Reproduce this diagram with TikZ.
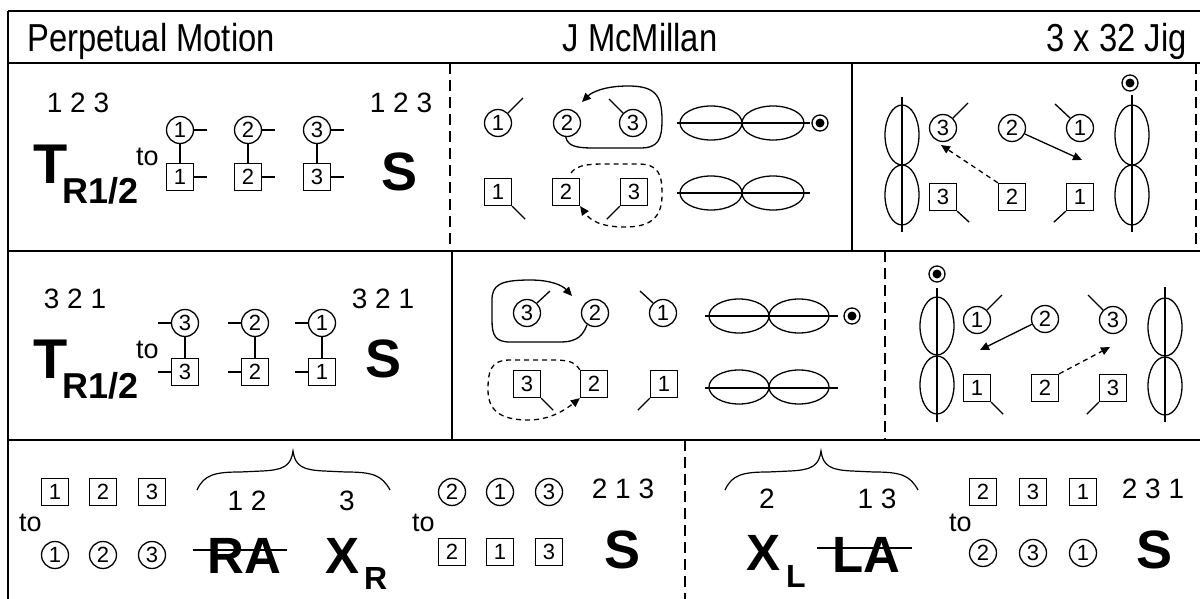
\documentclass[tikz,border=0pt]{standalone}
\usepackage{fontspec}
\setmainfont{Liberation Sans}
\newfontfamily\narrowfont[FakeStretch=0.84]{Liberation Sans}
\usetikzlibrary{arrows.meta,calc}
\newcommand\fsz[1]{\fontsize{#1pt}{#1pt}\selectfont}
\tikzset{
  circ/.style={circle,draw,line width=1.3pt,minimum size=27pt,inner sep=0pt,font=\fsz{22}},
  sq/.style={rectangle,draw,line width=1.3pt,minimum size=27pt,inner sep=0pt,font=\fsz{22}},
  tk/.style={line width=1.3pt},
  lbl/.style={inner sep=0pt,font=\fsz{28},anchor=base},
  tolbl/.style={inner sep=0pt,font=\fsz{27},anchor=base west},
  bigS/.style={inner sep=0pt,font=\bfseries\fsz{54},anchor=base},
  dotc/.style={circle,draw,line width=1.3pt,minimum size=16pt,inner sep=0pt},
  arr/.style={-{Triangle[length=9pt,width=8pt]},line width=1.3pt},
  dsh/.style={dash pattern=on 5pt off 4pt},
  sep/.style={line width=1.8pt},
  sepd/.style={line width=1.8pt,dash pattern=on 11pt off 6pt},
  reel/.style={line width=1.3pt},
}
\begin{document}
\begin{tikzpicture}[x=1pt,y=-1pt]
\useasboundingbox (0,0) rectangle (1200,599);
% frame
\draw[line width=2.6pt] (8,11) -- (1200,11);
\draw[line width=2.6pt] (8,63) -- (1200,63);
\draw[sep] (8,11) -- (8,599);
\draw[sep] (8,251) -- (1200,251);
\draw[sep] (8,440) -- (1200,440);
\draw[sepd] (450,63) -- (450,251);
\draw[sep] (852,63) -- (852,251);
\draw[sepd] (1196,63) -- (1196,251);
\draw[sep] (452,251) -- (452,440);
\draw[sepd] (885,251) -- (885,440);
\draw[sepd] (685,440) -- (685,599);
% title
\node[inner sep=0pt,anchor=base west,font=\narrowfont\fsz{39}] (title) at (27,52) {Perpetual Motion};
\node[inner sep=0pt,anchor=base,font=\narrowfont\fsz{39}] (author) at (640,52) {J McMillan};
\node[inner sep=0pt,anchor=base east,font=\narrowfont\fsz{39}] (form) at (1187,52) {3 x 32 Jig};

% ===== Row 1 left
\node[lbl] (r1a) at (78,113) {1 2 3};
\node[inner sep=0pt,anchor=base west,font=\bfseries\fsz{56}] (r1T) at (33,183) {T};
\node[inner sep=0pt,anchor=base west,font=\bfseries\fsz{36}] (r1Ts) at (62,204) {R1/2};
\node[tolbl] (r1to) at (136,165) {to};
\foreach \i/\x in {1/180,2/248,3/317}{
  \node[circ] (l1c\i) at (\x,130) {\i};
  \node[sq] (l1s\i) at (\x,177) {\i};
  \draw[tk] (l1c\i.south) -- (l1s\i.north);
  \draw[tk] (l1c\i.east) -- ++(13,0);
  \draw[tk] (l1s\i.east) -- ++(13,0);
}
\node[lbl] (r1b) at (401,113) {1 2 3};
\node[bigS] (r1S) at (400,190) {S};

% ===== Row 1 middle
\node[circ] (m1c1) at (498,123) {1};
\node[circ] (m1c2) at (567,123) {2};
\node[circ] (m1c3) at (633,123) {3};
\node[sq] (m1s1) at (498,192) {1};
\node[sq] (m1s2) at (566,192) {2};
\node[sq] (m1s3) at (634,192) {3};
\draw[tk] (m1c1.45) -- ++(15,-15);
\draw[tk] (m1c3.135) -- ++(-14,-14);
\draw[tk] (m1s1.south east) -- ++(13,13);
\draw[tk] (m1s3.south west) -- ++(-13,13);
\coordinate (m1e) at (582,102);
\draw[arr] (m1c2.265) .. controls (568,147) and (578,148) .. (595,148) -- (640,148)
  .. controls (658,148) and (662,140) .. (662,120) .. controls (662,95) and (655,86) .. (628,86)
  .. controls (605,86) and (592,92) .. (m1e);
\draw[arr,dsh] ($(m1s2.north)+(5,-5)$) .. controls (578,164) and (590,164) .. (610,164) -- (638,164)
  .. controls (660,164) and (662,176) .. (662,195) .. controls (662,218) and (650,227) .. (625,227)
  .. controls (600,227) and (590,220) .. (m1s2.south east);
\draw[reel] (711,123) ellipse [x radius=31pt,y radius=17pt];
\draw[reel] (773,123) ellipse [x radius=31pt,y radius=17pt];
\draw[reel] (677,123) -- (810,123);
\node[dotc] (m1d) at (820,123) {};
\fill (m1d.center) circle (4.5pt);
\draw[reel] (711,193) ellipse [x radius=31pt,y radius=17pt];
\draw[reel] (773,193) ellipse [x radius=31pt,y radius=17pt];
\draw[reel] (677,193) -- (810,193);

% ===== Row 1 right
\draw[reel] (902,135) ellipse [x radius=17pt,y radius=30pt];
\draw[reel] (902,195) ellipse [x radius=17pt,y radius=30pt];
\draw[reel] (902,97) -- (902,232);
\draw[reel] (1132,135) ellipse [x radius=17pt,y radius=30pt];
\draw[reel] (1132,195) ellipse [x radius=17pt,y radius=30pt];
\draw[reel] (1132,95) -- (1132,232);
\node[dotc] (r1d) at (1130,83) {};
\fill (r1d.center) circle (4.5pt);
\node[circ] (q1c3) at (943,128) {3};
\node[circ] (q1c2) at (1012,128) {2};
\node[circ] (q1c1) at (1080,128) {1};
\node[sq] (q1s3) at (943,197) {3};
\node[sq] (q1s2) at (1012,197) {2};
\node[sq] (q1s1) at (1080,197) {1};
\draw[tk] (q1c3.45) -- ++(15,-15);
\draw[tk] (q1c1.135) -- ++(-15,-14);
\draw[tk] (q1s3.south east) -- ++(12,11);
\draw[tk] (q1s1.south west) -- ++(-12,11);
\coordinate (q1e1) at (1082,160);
\coordinate (q1e2) at (941,145);
\draw[arr] (q1c2.-25) -- (q1e1);
\draw[arr,dsh] (q1s2.north west) -- (q1e2);

% ===== Row 2 left
\node[lbl] (r2a) at (75,308) {3 2 1};
\node[inner sep=0pt,anchor=base west,font=\bfseries\fsz{56}] (r2T) at (33,378) {T};
\node[inner sep=0pt,anchor=base west,font=\bfseries\fsz{36}] (r2Ts) at (62,398) {R1/2};
\node[tolbl] (r2to) at (136,358) {to};
\foreach \i/\x in {3/185,2/255,1/322}{
  \node[circ] (l2c\i) at (\x,323) {\i};
  \node[sq] (l2s\i) at (\x,372) {\i};
  \draw[tk] (l2c\i.south) -- (l2s\i.north);
  \draw[tk] (l2c\i.west) -- ++(-13,0);
  \draw[tk] (l2s\i.west) -- ++(-13,0);
}
\node[lbl] (r2b) at (383,308) {3 2 1};
\node[bigS] (r2S) at (384,377) {S};

% ===== Row 2 middle
\node[circ] (m2c3) at (527,313) {3};
\node[circ] (m2c2) at (595,313) {2};
\node[circ] (m2c1) at (663,313) {1};
\node[sq] (m2s3) at (527,384) {3};
\node[sq] (m2s2) at (594,384) {2};
\node[sq] (m2s1) at (664,384) {1};
\draw[tk] (m2c3.45) -- ++(13,-12);
\draw[tk] (m2c1.135) -- ++(-13,-12);
\draw[tk] (m2s3.south east) -- ++(12,12);
\draw[tk] (m2s1.south west) -- ++(-12,12);
\coordinate (m2e) at (572,296);
\draw[arr] (m2c2.236) .. controls (583,335) and (578,342) .. (560,342) -- (510,342)
  .. controls (495,342) and (492,335) .. (492,320) -- (492,300)
  .. controls (492,285) and (500,280) .. (530,280) .. controls (550,280) and (562,285) .. (m2e);
\draw[arr,dsh] (m2s2.north west) .. controls (574,361) and (568,360) .. (550,360) -- (510,360)
  .. controls (490,360) and (488,372) .. (488,390) .. controls (488,410) and (500,420) .. (528,420)
  .. controls (550,420) and (565,410) .. (m2s2.south west);
\draw[reel] (739,316) ellipse [x radius=30pt,y radius=17pt];
\draw[reel] (799,316) ellipse [x radius=30pt,y radius=17pt];
\draw[reel] (705,316) -- (838,316);
\node[dotc] (m2d) at (852,316) {};
\fill (m2d.center) circle (4.5pt);
\draw[reel] (739,387) ellipse [x radius=30pt,y radius=17pt];
\draw[reel] (799,387) ellipse [x radius=30pt,y radius=17pt];
\draw[reel] (705,388) -- (838,388);

% ===== Row 2 right
\node[dotc] (q2d) at (937,274) {};
\fill (q2d.center) circle (4.5pt);
\draw[reel] (937,326) ellipse [x radius=17pt,y radius=29pt];
\draw[reel] (937,385) ellipse [x radius=17pt,y radius=29pt];
\draw[reel] (937,288) -- (937,422);
\draw[reel] (1165,327) ellipse [x radius=17pt,y radius=29pt];
\draw[reel] (1165,386) ellipse [x radius=17pt,y radius=29pt];
\draw[reel] (1165,287) -- (1165,422);
\node[circ] (q2c1) at (977,320) {1};
\node[circ] (q2c2) at (1045,319) {2};
\node[circ] (q2c3) at (1113,320) {3};
\node[sq] (q2s1) at (977,388) {1};
\node[sq] (q2s2) at (1045,388) {2};
\node[sq] (q2s3) at (1113,388) {3};
\draw[tk] (q2c1.45) -- ++(15,-15);
\draw[tk] (q2c3.135) -- ++(-15,-15);
\draw[tk] (q2s1.south east) -- ++(12,12);
\draw[tk] (q2s3.south west) -- ++(-12,12);
\coordinate (q2e1) at (980,350);
\coordinate (q2e2) at (1110,347);
\draw[arr] (q2c2.202) -- (q2e1);
\draw[arr,dsh] (q2s2.north east) -- (q2e2);

% ===== Row 3 left
\foreach \i/\x in {1/55,2/103,3/152}{
  \node[sq] (b1s\i) at (\x,492) {\i};
  \node[circ] (b1c\i) at (\x,555) {\i};
}
\node[tolbl] (b1to) at (19,531) {to};
\draw[line width=1.2pt] (197,490) .. controls (204,475) and (214,472) .. (240,472) -- (262,471)
  .. controls (285,470) and (291,465) .. (293,451) .. controls (295,465) and (301,470) .. (324,471)
  -- (346,472) .. controls (372,472) and (382,475) .. (390,490);
\node[lbl] (b1n12) at (247,510) {1 2};
\node[lbl] (b1n3) at (347,510) {3};
\node[inner sep=0pt,anchor=base west,font=\bfseries\fsz{51}] (b1RA) at (207,573) {RA};
\draw[line width=1.6pt] (193,550) -- (287,550);
\node[inner sep=0pt,anchor=base west,font=\bfseries\fsz{51}] (b1X) at (325,573) {X};
\node[inner sep=0pt,anchor=base west,font=\bfseries\fsz{32}] (b1Xs) at (364,589) {R};

% ===== Row 3 middle
\node[tolbl] (b2to) at (412,531) {to};
\foreach \i/\x in {2/452,1/500,3/549}{
  \node[circ] (b2c\i) at (\x,492) {\i};
  \node[sq] (b2s\i) at (\x,552) {\i};
}
\node[lbl] (b2n) at (623,498) {2 1 3};
\node[bigS] (b2S) at (623,568) {S};

% ===== Row 3 right
\begin{scope}[xshift=528pt]
\draw[line width=1.2pt] (197,490) .. controls (204,475) and (214,472) .. (240,472) -- (262,471)
  .. controls (285,470) and (291,465) .. (293,451) .. controls (295,465) and (301,470) .. (324,471)
  -- (346,472) .. controls (372,472) and (382,475) .. (390,490);
\end{scope}
\node[lbl] (b3n2) at (767,508) {2};
\node[lbl] (b3n13) at (877,508) {1 3};
\node[inner sep=0pt,anchor=base west,font=\bfseries\fsz{51}] (b3X) at (746,570) {X};
\node[inner sep=0pt,anchor=base west,font=\bfseries\fsz{32}] (b3Xs) at (786,587) {L};
\node[inner sep=0pt,anchor=base west,font=\bfseries\fsz{51}] (b3LA) at (832,572) {LA};
\draw[line width=1.6pt] (817,548) -- (912,548);
\node[tolbl] (b3to) at (949,531) {to};
\foreach \i/\x in {2/983,3/1033,1/1083}{
  \node[sq] (b3s\i) at (\x,492) {\i};
  \node[circ] (b3c\i) at (\x,553) {\i};
}
\node[lbl] (b3n) at (1153,498) {2 3 1};
\node[bigS] (b3S) at (1154,568) {S};
\end{tikzpicture}
\end{document}
